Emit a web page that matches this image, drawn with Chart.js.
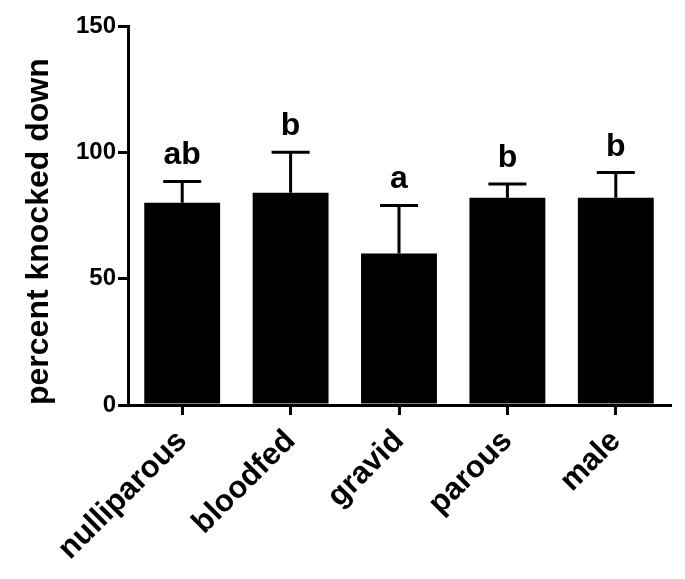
<!DOCTYPE html>
<html>
<head>
<meta charset="utf-8">
<script src="https://cdn.jsdelivr.net/npm/chart.js@4.4.0/dist/chart.umd.min.js"></script>
<style>
  body { margin: 0; background: #fff; }
</style>
</head>
<body>
<canvas id="knockChart" width="685" height="579"></canvas>
<script>
var categories = ["nulliparous", "bloodfed", "gravid", "parous", "male"];
var means = [80, 84, 60, 82, 82];
var errors = [8.5, 16, 19, 5.5, 10];
var letters = ["ab", "b", "a", "b", "b"];
var yTicks = [0, 50, 100, 150];

var FONT = "'Liberation Sans', Arial, Helvetica, sans-serif";

// error bars (upper only) + significance letters
var errorBarPlugin = {
  id: 'errorBars',
  afterDatasetsDraw: function (chart) {
    var ctx = chart.ctx;
    var meta = chart.getDatasetMeta(0);
    var yScale = chart.scales.y;
    ctx.save();
    ctx.strokeStyle = '#000';
    ctx.lineWidth = 3;
    meta.data.forEach(function (bar, i) {
      var x = bar.x;
      var yTop = yScale.getPixelForValue(means[i] + errors[i]);
      var yMean = yScale.getPixelForValue(means[i]);
      ctx.beginPath();
      ctx.moveTo(x, yMean);
      ctx.lineTo(x, yTop);
      ctx.moveTo(x - 19, yTop);
      ctx.lineTo(x + 19, yTop);
      ctx.stroke();
      ctx.fillStyle = '#000';
      ctx.font = 'bold 32px ' + FONT;
      ctx.textAlign = 'center';
      ctx.textBaseline = 'alphabetic';
      ctx.fillText(letters[i], x, yTop - 17);
    });
    ctx.restore();
  }
};

new Chart(document.getElementById('knockChart').getContext('2d'), {
  type: 'bar',
  data: {
    labels: categories,
    datasets: [
      {
        data: means,
        backgroundColor: '#000',
        borderWidth: 0,
        barPercentage: 0.7,
        categoryPercentage: 1.0
      }
    ]
  },
  options: {
    responsive: false,
    animation: false,
    layout: { padding: { top: 26, right: 15, left: 0, bottom: 0 } },
    plugins: {
      legend: { display: false },
      tooltip: { enabled: false }
    },
    scales: {
      x: {
        offset: true,
        grid: { offset: false, drawOnChartArea: false, drawTicks: true, tickLength: 10, lineWidth: 3, color: '#000' },
        border: { display: true, width: 3, color: '#000' },
        ticks: {
          color: '#000',
          font: { family: FONT, size: 31, weight: 'bold' },
          minRotation: 45,
          maxRotation: 45,
          padding: 8
        },
        afterFit: function (scale) { scale.height = 174; }
      },
      y: {
        min: 0,
        max: 150,
        afterBuildTicks: function (scale) {
          scale.ticks = yTicks.map(function (v) { return { value: v }; });
        },
        grid: { drawOnChartArea: false, drawTicks: true, tickLength: 10, lineWidth: 3, color: '#000' },
        border: { display: true, width: 3, color: '#000' },
        ticks: {
          color: '#000',
          font: { family: FONT, size: 24, weight: 'bold' },
          padding: 2
        },
        title: {
          display: true,
          text: 'percent knocked down',
          color: '#000',
          align: 'start',
          font: { family: FONT, size: 32, weight: 'bold' },
          padding: { top: 20, bottom: 0 }
        },
        afterFit: function (scale) { scale.width = 128; }
      }
    }
  },
  plugins: [errorBarPlugin]
});
</script>
</body>
</html>
